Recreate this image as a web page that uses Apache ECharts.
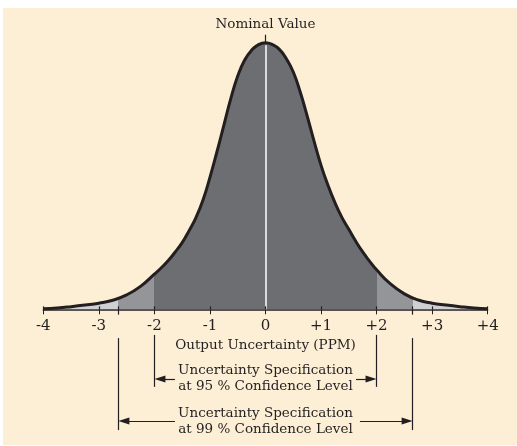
<!DOCTYPE html>
<html>
<head>
<meta charset="utf-8">
<script src="https://cdn.jsdelivr.net/npm/echarts@6/dist/echarts.min.js"></script>
<style>
  body { margin: 0; background: #ffffff; }
  #paper { position: absolute; left: 3px; top: 8px; width: 514px; height: 437px; background: #fdefd5; }
  #chart { position: absolute; left: 0; top: 0; width: 517px; height: 446px; }
</style>
</head>
<body>
<div id="paper"></div>
<div id="chart"></div>
<script>
// curve, height in % of the peak
const xs = [-4, -3.75, -3.5, -3.25, -3, -2.75, -2.5, -2.25,
  -2, -1.875, -1.75, -1.625, -1.5, -1.375, -1.25, -1.125, -1, -0.875, -0.75, -0.625, -0.5, -0.375, -0.25, -0.125,
  0, 0.125, 0.25, 0.375, 0.5, 0.625, 0.75, 0.875, 1, 1.125, 1.25, 1.375, 1.5, 1.625, 1.75, 1.875, 2,
  2.25, 2.5, 2.75, 3, 3.25, 3.5, 3.75, 4];
const heights = [0.2, 0.5, 1.0, 1.6, 2.3, 3.4, 5.4, 8.6,
  13.2, 15.6, 18.3, 21.5, 25, 29.5, 34.5, 41, 49.5, 59, 69, 79, 87.5, 93.5, 97.2, 99.3,
  100, 99.3, 97.5, 94, 89, 81.5, 72.5, 63, 54, 46.5, 40, 34.5, 30, 25.5, 21.5, 18, 14.8,
  9.5, 5.8, 3.5, 2.3, 1.6, 1.0, 0.5, 0.2];

const ticks = [-4, -3, -2, -1, 0, 1, 2, 3, 4];
const limit95 = 2;
const limit99 = 2.65;

const labels = {
  nominal: "Nominal Value",
  axis: "Output Uncertainty (PPM)",
  spec95: "Uncertainty Specification\nat 95 % Confidence Level",
  spec99: "Uncertainty Specification\nat 99 % Confidence Level"
};

const ink = "#231f20";
const font = "DejaVu Serif";

const curve = xs.map((x, i) => [x, heights[i]]);

const chart = echarts.init(document.getElementById("chart"));

// helper for annotation lines in data coords
function seg(x1, y1, x2, y2, symbols) {
  return [
    { coord: [x1, y1], symbol: symbols ? symbols[0] : "none" },
    { coord: [x2, y2], symbol: symbols ? symbols[1] : "none" }
  ];
}

// axis ticks poke a little above the line too
const upTicks = ticks.concat([-limit99, limit99]).map(t => seg(t, 0, t, 1.1));

// triangle heads are centred on the end point, so stop half a head short
const head = 0.1;

const textLabel = {
  show: true,
  position: "inside",
  fontFamily: font,
  fontSize: 13.5,
  lineHeight: 16,
  color: ink,
  formatter: p => p.name
};

chart.setOption({
  animation: false,
  textStyle: { fontFamily: font, color: ink },
  grid: [
    { left: 43.3, right: 29.3, top: 2.7, bottom: 136.7 },
    // strip under the axis for the confidence annotations
    { left: 43.3, right: 29.3, top: 309.3, bottom: 3.4 }
  ],
  xAxis: [{
    type: "value",
    gridIndex: 0,
    min: -4,
    max: 4,
    interval: 1,
    axisLine: { lineStyle: { color: ink, width: 1.5 } },
    axisTick: { show: true, length: 5, lineStyle: { color: ink, width: 1 } },
    axisLabel: {
      margin: 9,
      fontSize: 15,
      fontFamily: font,
      color: ink,
      formatter: v => (v > 0 ? "+" + v : String(v))
    },
    splitLine: { show: false },
    name: labels.axis,
    nameLocation: "middle",
    nameGap: 25,
    nameTextStyle: { fontSize: 13.5, fontFamily: font, color: ink }
  }, {
    type: "value",
    gridIndex: 1,
    min: -4,
    max: 4,
    show: false
  }],
  yAxis: [{
    type: "value",
    gridIndex: 0,
    min: 0,
    max: 115,
    show: false
  }, {
    type: "value",
    gridIndex: 1,
    min: -50,
    max: 0,
    show: false
  }],
  visualMap: {
    type: "piecewise",
    show: false,
    dimension: 0,
    seriesIndex: 0,
    pieces: [
      { lt: -limit99, color: "#cfd0d1" },
      { gte: -limit99, lt: -limit95, color: "#939598" },
      { gte: -limit95, lte: limit95, color: "#6d6e71" },
      { gt: limit95, lte: limit99, color: "#939598" },
      { gt: limit99, color: "#cfd0d1" }
    ]
  },
  series: [{
    // shaded area
    type: "line",
    data: curve,
    smooth: true,
    symbol: "none",
    lineStyle: { width: 0 },
    areaStyle: { opacity: 1 },
    z: 2,
    markLine: {
      silent: true,
      symbol: "none",
      label: { show: false },
      lineStyle: { color: ink, width: 1.2, type: "solid" },
      data: [
        [{ coord: [0, 0], lineStyle: { color: "#ffffff", width: 1.5 } }, { coord: [0, 99] }],
        seg(0, 100, 0, 103),
        ...upTicks
      ]
    },
    markPoint: {
      silent: true,
      symbol: "circle",
      symbolSize: 0,
      label: textLabel,
      data: [{ name: labels.nominal, coord: [0, 107] }]
    }
  }, {
    // outline of the curve
    type: "line",
    data: curve,
    smooth: true,
    symbol: "none",
    lineStyle: { color: ink, width: 3 },
    z: 5
  }, {
    // carrier for the confidence-level brackets
    type: "line",
    xAxisIndex: 1,
    yAxisIndex: 1,
    data: [[0, -50]],
    symbol: "none",
    lineStyle: { width: 0 },
    markLine: {
      silent: true,
      symbol: "none",
      symbolSize: [7, 11],
      label: { show: false },
      lineStyle: { color: ink, width: 1.2, type: "solid" },
      data: [
        seg(-limit99, -2, -limit99, 0),
        seg(limit99, -2, limit99, 0),
        seg(-limit95, -9.6, -limit95, -29.1),
        seg(limit95, -9.6, limit95, -29.1),
        seg(-limit99, -10.8, -limit99, -45.3),
        seg(limit99, -10.8, limit99, -45.3),
        seg(-limit95 + head, -26.1, -1.63, -26.1, ["triangle", "none"]),
        seg(1.63, -26.1, limit95 - head, -26.1, ["none", "triangle"]),
        seg(-limit99 + head, -41.9, -1.63, -41.9, ["triangle", "none"]),
        seg(1.7, -41.9, limit99 - head, -41.9, ["none", "triangle"])
      ]
    },
    markPoint: {
      silent: true,
      symbol: "circle",
      symbolSize: 0,
      label: textLabel,
      data: [
        { name: labels.spec95, coord: [0, -26] },
        { name: labels.spec99, coord: [0, -42] }
      ]
    }
  }]
});
</script>
</body>
</html>
